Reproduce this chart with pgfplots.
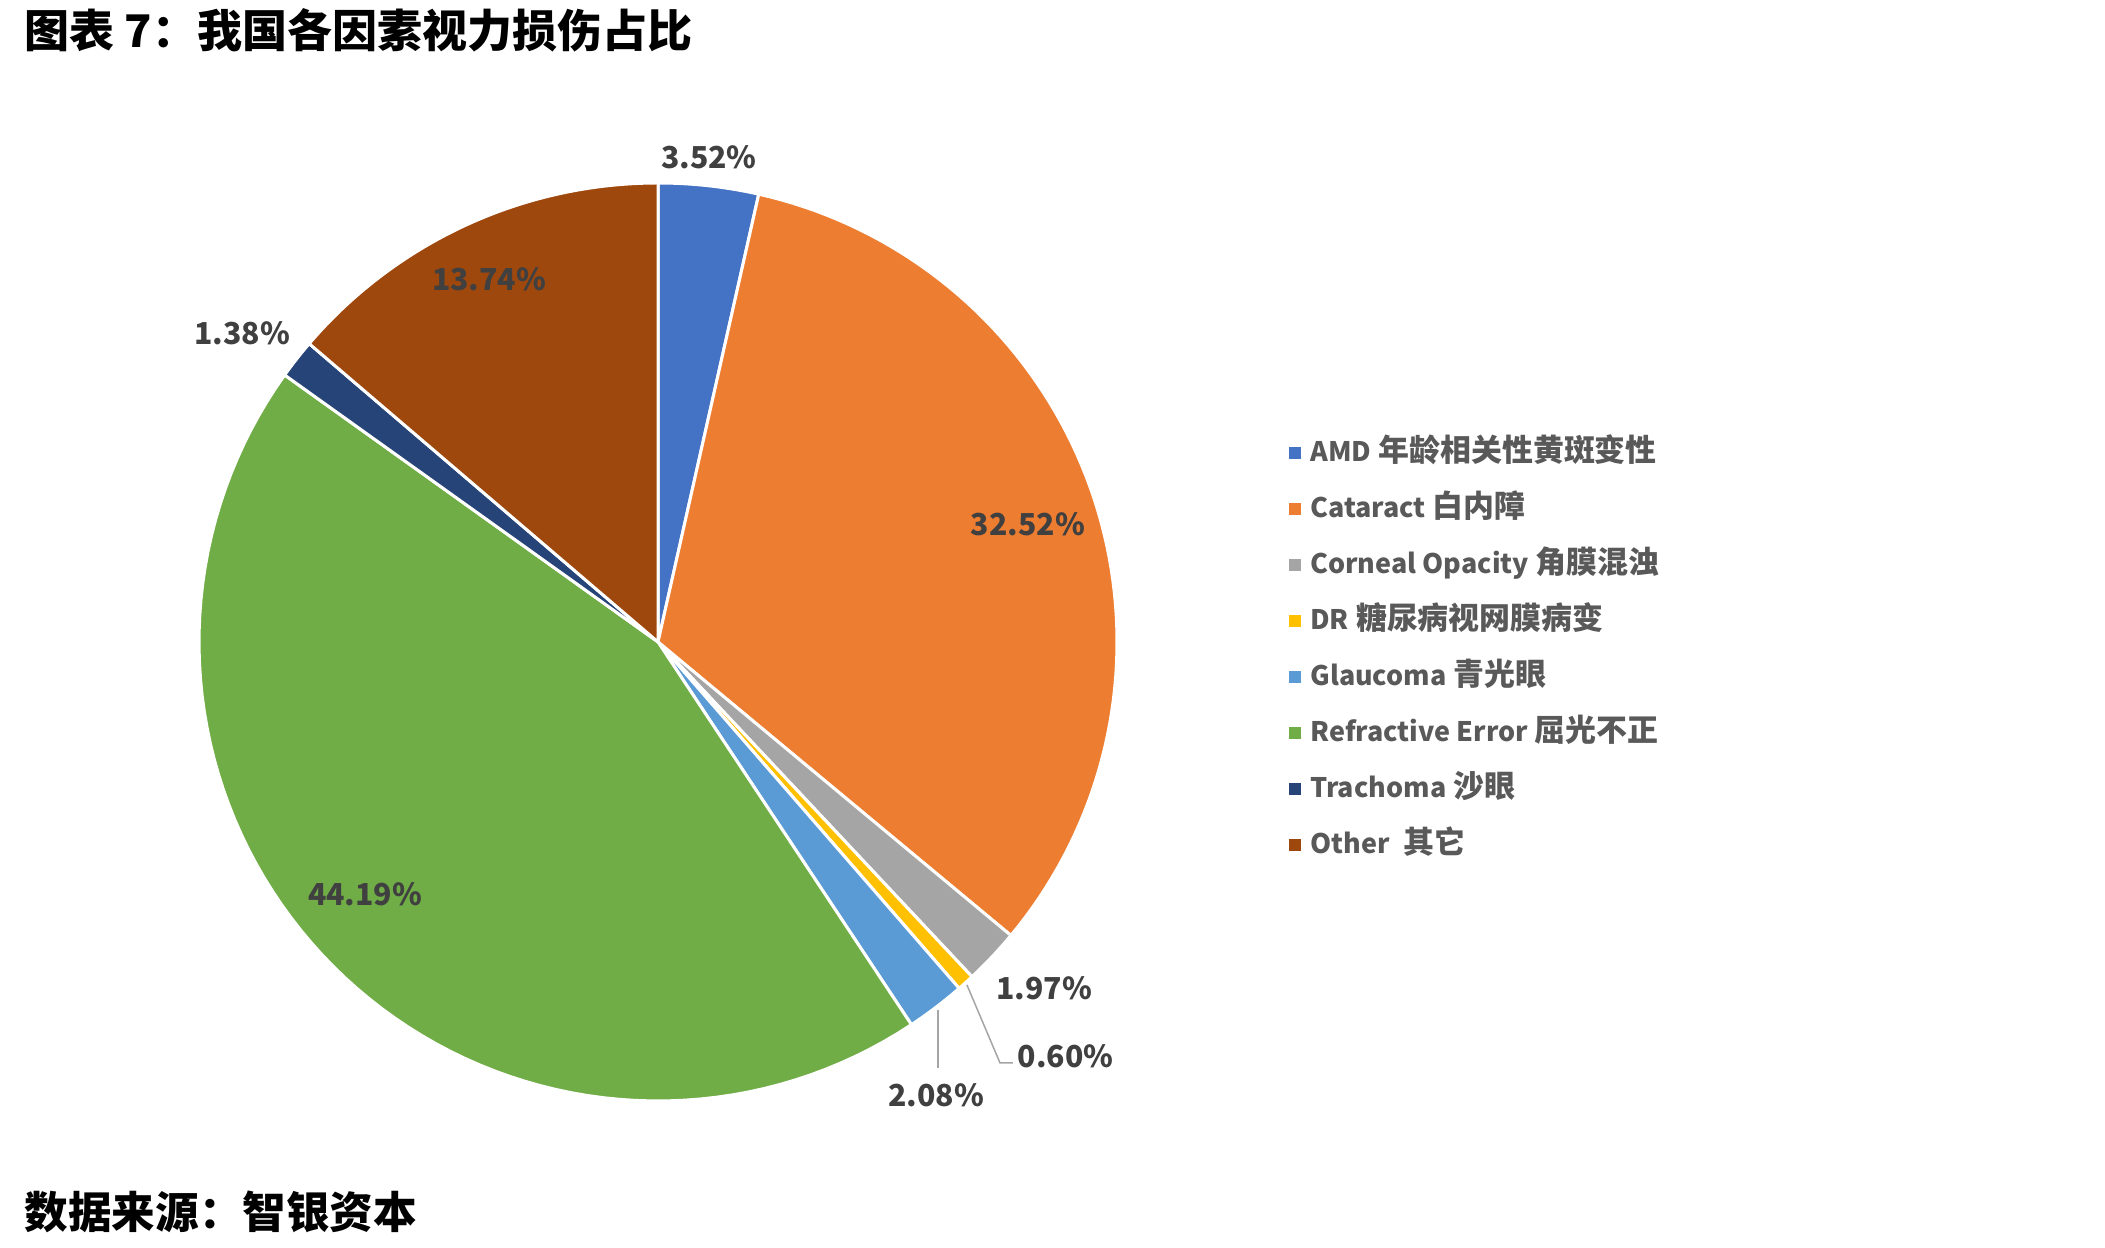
\documentclass[border=0pt]{standalone}
\usepackage{fontspec}
\setmainfont{Noto Sans CJK SC}
\newfontfamily\lat{Noto Sans CJK SC}[Scale=0.87]
\usepackage{pgfplots}
\pgfplotsset{compat=1.18}
\definecolor{amd}{HTML}{4472C4}
\definecolor{cat}{HTML}{ED7D31}
\definecolor{cor}{HTML}{A5A5A5}
\definecolor{dr}{HTML}{FFC000}
\definecolor{gla}{HTML}{5B9BD5}
\definecolor{ref}{HTML}{70AD47}
\definecolor{tra}{HTML}{264478}
\definecolor{oth}{HTML}{9E480E}
\definecolor{lbl}{HTML}{404040}
\definecolor{leg}{HTML}{595959}
% slice from cumulative percent #1 to #2
\newcommand{\slice}[3]{%
  \addplot[draw=white, line width=0.3mm, fill=#3, domain={90-3.6*(#2)}:{90-3.6*(#1)}, samples=80]
    ({cos(x)},{sin(x)}) -- (axis cs:0,0) -- cycle;}
\begin{document}
\begin{tikzpicture}
\path[use as bounding box] (0,0) rectangle (210.5mm,124.8mm);
\node[anchor=west, inner sep=0pt, font=\fontsize{12.8}{14}\selectfont\bfseries] at (2.4mm,121.8mm) {图表 7：我国各因素视力损伤占比};
\node[anchor=west, inner sep=0pt, font=\fontsize{12.4}{14}\selectfont\bfseries] at (2.4mm,3.6mm) {数据来源：智银资本};
\begin{axis}[
  at={(65.8mm,60.6mm)}, anchor=center,
  scale only axis, width=91.8mm, height=91.8mm,
  xmin=-1, xmax=1, ymin=-1, ymax=1,
  hide axis, clip=false,
  legend image code/.code={\fill[#1, draw=none] (0mm,-0.6mm) rectangle (1.2mm,0.6mm);},
  legend cell align=left,
  legend style={draw=none, fill=none, inner sep=0pt, at={(1.187,0.4925)}, anchor=west,
    font=\fontsize{8.8}{10}\selectfont\bfseries, text=leg, row sep=2.5mm,
    nodes={text height=2.4mm, text depth=0.7mm, inner ysep=0pt, inner xsep=0.9mm}},
]
\slice{0}{3.52}{amd}
\addlegendentry{{\lat AMD} 年龄相关性黄斑变性}
\slice{3.52}{36.04}{cat}
\addlegendentry{{\lat Cataract} 白内障}
\slice{36.04}{38.01}{cor}
\addlegendentry{{\lat Corneal Opacity} 角膜混浊}
\slice{38.01}{38.61}{dr}
\addlegendentry{{\lat DR} 糖尿病视网膜病变}
\slice{38.61}{40.69}{gla}
\addlegendentry{{\lat Glaucoma} 青光眼}
\slice{40.69}{84.88}{ref}
\addlegendentry{{\lat Refractive Error} 屈光不正}
\slice{84.88}{86.26}{tra}
\addlegendentry{{\lat Trachoma} 沙眼}
\slice{86.26}{100}{oth}
\addlegendentry{{\lat Other}\ \ 其它}
% leader lines
\draw[color=cor, line width=0.15mm] (axis cs:0.673,-0.747) -- (axis cs:0.745,-0.917) -- (axis cs:0.773,-0.917);
\draw[color=cor, line width=0.15mm] (axis cs:0.610,-0.802) -- (axis cs:0.610,-0.928);
% data labels
\begin{scope}[every node/.style={font=\fontsize{8.6}{10}\selectfont\bfseries, text=lbl, inner sep=0pt}]
\node at (axis cs:0.111,1.057) {3.52\%};
\node at (axis cs:0.806,0.257) {32.52\%};
\node at (axis cs:0.841,-0.754) {1.97\%};
\node[anchor=west] at (axis cs:0.782,-0.903) {0.60\%};
\node at (axis cs:0.606,-0.987) {2.08\%};
\node at (axis cs:-0.638,-0.549) {44.19\%};
\node at (axis cs:-0.906,0.673) {1.38\%};
\node at (axis cs:-0.368,0.791) {13.74\%};
\end{scope}
\end{axis}
\end{tikzpicture}
\end{document}
